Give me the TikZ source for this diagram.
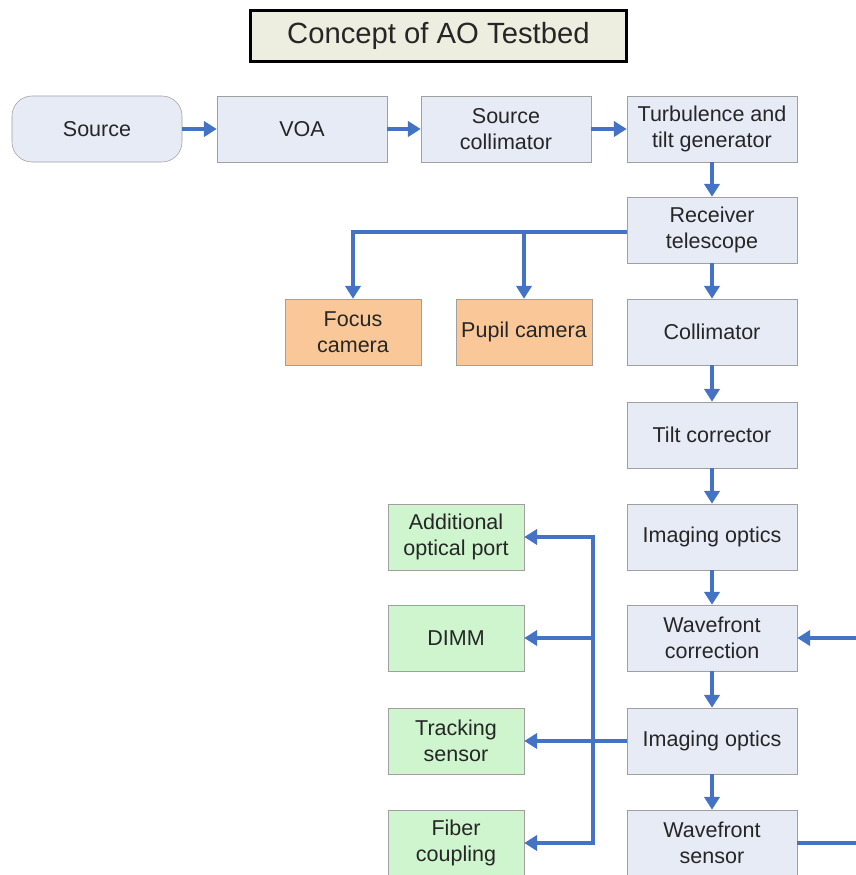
\documentclass[tikz,border=0pt]{standalone}
\usepackage{fontspec}
\setmainfont{Liberation Sans}
\usepackage{xcolor}
\usepackage{tikz}
\usetikzlibrary{positioning,arrows.meta,calc}
\definecolor{boxblue}{RGB}{231,235,246}
\definecolor{boxedge}{RGB}{160,160,160}
\definecolor{camorange}{RGB}{250,200,152}
\definecolor{outgreen}{RGB}{206,245,206}
\definecolor{flowblue}{RGB}{68,114,196}
\definecolor{titlefill}{RGB}{238,238,224}

\begin{document}
\begin{tikzpicture}[
        blk/.style={rectangle, draw=boxedge, fill=boxblue, minimum width=4.25cm, minimum height=1.65cm, inner sep=0pt, align=center, text=black!85, font=\fontsize{15.3}{18.5}\selectfont},
        cam/.style={blk, fill=camorange, minimum width=3.4cm},
        sink/.style={blk, fill=outgreen, minimum width=3.4cm},
        flow/.style={-{Triangle[length=0.32cm,width=0.38cm]}, line width=2.4pt, flowblue},
        wire/.style={line width=2.4pt, flowblue}
      ]
        \useasboundingbox (0,0) rectangle (21.4,-21.875);
        % title
        \node[draw=black, line width=2.4pt, fill=titlefill, minimum width=9.4cm, minimum height=1.28cm, inner sep=0pt, text=black!85, font=\fontsize{20.8}{25}\selectfont] at (10.96,-0.9) (title) {Concept of AO Testbed};
        % top row
        \node[blk, rounded corners=0.5cm] at (2.425,-3.225) (src) {Source};
        \node[blk] at (7.55,-3.225) (voa) {VOA};
        \node[blk] at (12.65,-3.225) (scoll) {Source\\collimator};
        \node[blk] at (17.8,-3.225) (turb) {Turbulence and\\tilt generator};
        % main column
        \node[blk] at (17.8,-5.75) (recv) {Receiver\\telescope};
        \node[blk] at (17.8,-8.3) (coll) {Collimator};
        \node[blk] at (17.8,-10.875) (tilt) {Tilt corrector};
        \node[blk] at (17.8,-13.425) (img1) {Imaging optics};
        \node[blk] at (17.8,-15.95) (wfc) {Wavefront\\correction};
        \node[blk] at (17.8,-18.525) (img2) {Imaging optics};
        \node[blk] at (17.8,-21.075) (wfs) {Wavefront\\sensor};
        % cameras
        \node[cam] at (8.825,-8.3) (focus) {Focus\\camera};
        \node[cam] at (13.1,-8.3) (pupil) {Pupil camera};
        % outputs
        \node[sink] at (11.4,-13.425) (port) {Additional\\optical port};
        \node[sink] at (11.4,-15.95) (dimm) {DIMM};
        \node[sink] at (11.4,-18.525) (track) {Tracking\\sensor};
        \node[sink] at (11.4,-21.075) (fiber) {Fiber\\coupling};
        % connectors
        \draw[flow] (src) -- (voa);
        \draw[flow] (voa) -- (scoll);
        \draw[flow] (scoll) -- (turb);
        \draw[flow] (turb) -- (recv);
        \draw[flow] (recv) -- (coll);
        \draw[flow] (coll) -- (tilt);
        \draw[flow] (tilt) -- (img1);
        \draw[flow] (img1) -- (wfc);
        \draw[flow] (wfc) -- (img2);
        \draw[flow] (img2) -- (wfs);
        \coordinate (tap) at ($(recv.west)+(0,-0.05)$);
        \draw[flow] (tap) -| (focus.north);
        \draw[flow] (tap -| pupil.north) -- (pupil.north);
        \draw[flow] (img2) -- (track);
        \coordinate (bus) at (14.825,-18.525);
        \draw[flow] (bus) |- (port);
        \draw[flow] (bus) |- (fiber);
        \draw[flow] (bus |- dimm.east) -- (dimm);
        \draw[flow] (wfs.east) -- ++(1.7,0) |- (wfc.east);
      \end{tikzpicture}
\end{document}
